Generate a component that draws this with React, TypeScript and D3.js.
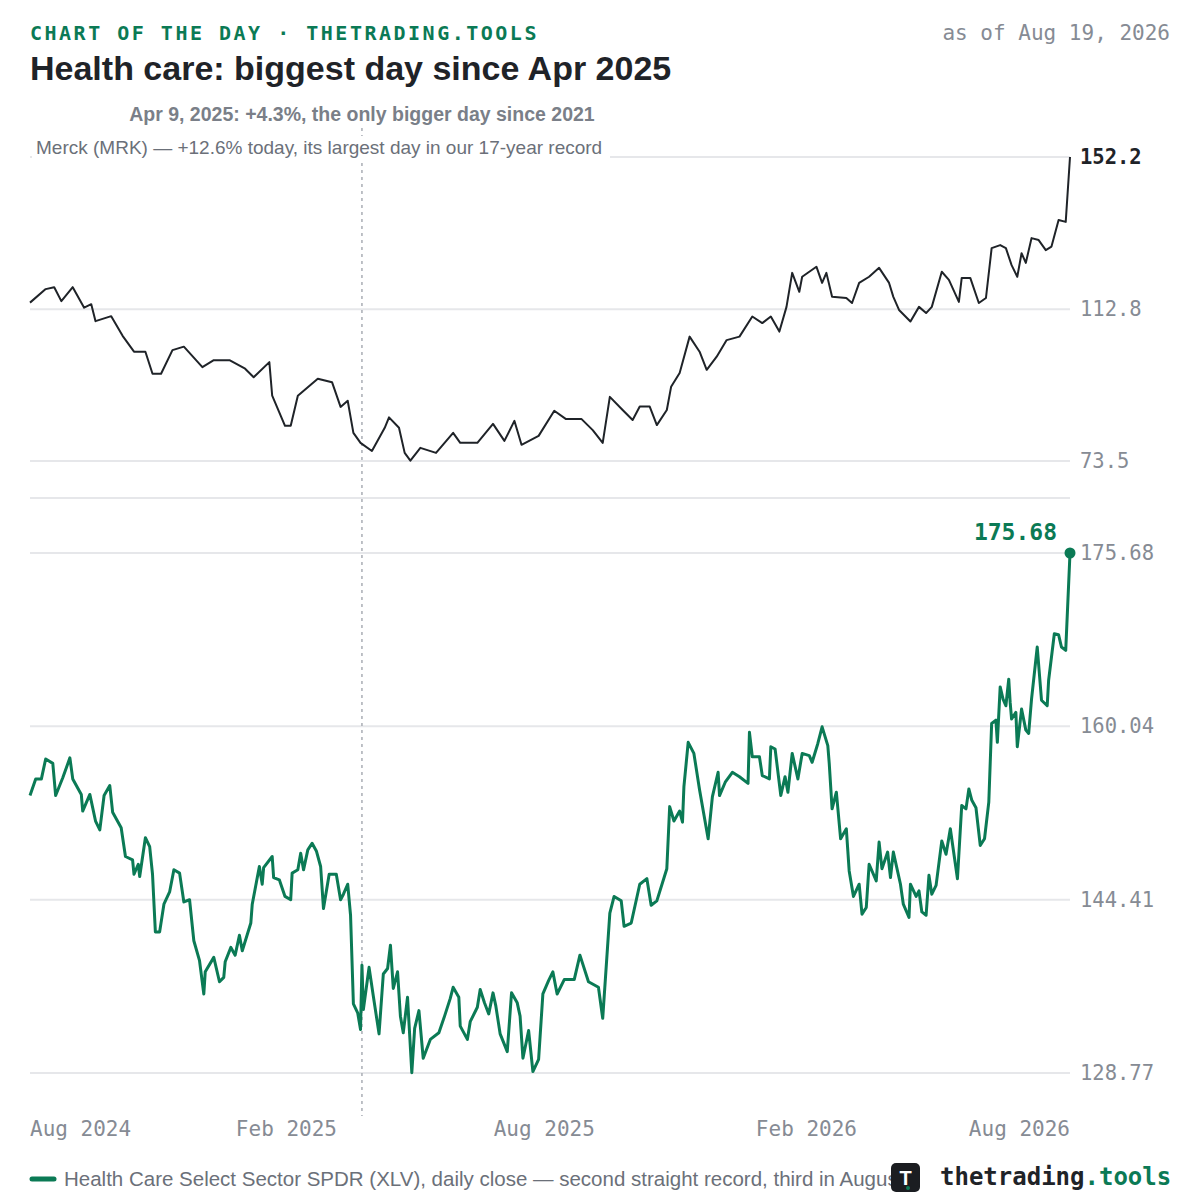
import React, { useRef, useEffect } from 'react';
import * as d3 from 'd3';

// days since Aug 19, 2024 and closing values
const mrkDays = [0, 11, 17, 22, 30, 38, 43, 46, 57, 65, 73, 81, 86, 92, 100, 108, 121, 129, 140, 151, 157, 168, 170, 179, 183, 188, 202, 212, 218, 223, 227, 232, 240, 249, 252, 259, 263, 267, 274, 285, 297, 302, 314, 325, 333, 340, 345, 357, 368, 376, 387, 395, 402, 407, 416, 423, 428, 435, 440, 447, 450, 456, 463, 470, 475, 482, 489, 498, 507, 514, 520, 526, 531, 535, 540, 542, 552, 556, 559, 563, 573, 577, 582, 589, 596, 603, 606, 610, 618, 624, 629, 633, 640, 645, 652, 654, 660, 666, 671, 675, 681, 685, 689, 693, 696, 699, 703, 708, 713, 717, 722, 727, 730];
const mrkClose = [114.5, 118.0, 118.5, 114.9, 118.5, 113.2, 114.1, 109.7, 111.0, 105.9, 101.8, 101.8, 96.1, 96.1, 102.2, 103.1, 97.8, 99.6, 99.6, 97.4, 95.2, 99.1, 90.4, 82.6, 82.6, 90.4, 94.8, 93.9, 87.5, 89.1, 80.8, 78.2, 76.1, 82.1, 84.8, 82.1, 75.6, 73.6, 76.9, 75.6, 80.8, 78.2, 78.2, 83.1, 78.7, 83.9, 77.7, 80.0, 86.5, 84.4, 84.4, 81.5, 78.2, 90.1, 86.7, 84.1, 87.6, 87.6, 82.8, 86.7, 92.7, 96.3, 105.7, 101.8, 97.1, 100.5, 104.8, 105.7, 110.9, 109.2, 110.9, 107.0, 113.4, 122.2, 117.3, 121.2, 123.8, 119.6, 122.2, 116.0, 115.7, 114.4, 119.6, 121.2, 123.5, 119.6, 116.0, 112.6, 109.6, 113.4, 111.8, 113.4, 122.5, 120.4, 114.7, 120.9, 120.9, 114.4, 115.7, 128.6, 129.4, 128.6, 124.2, 121.2, 127.3, 124.8, 131.2, 130.7, 128.1, 129.0, 135.9, 135.4, 152.2];

const xlvDays = [0, 4, 8, 11, 16, 18, 23, 28, 30, 36, 37, 42, 46, 49, 52, 56, 58, 64, 67, 72, 73, 76, 77, 81, 84, 86, 88, 91, 94, 98, 101, 105, 108, 112, 115, 119, 122, 123, 129, 133, 136, 137, 141, 144, 147, 149, 155, 156, 161, 163, 164, 170, 171, 175, 179, 183, 184, 188, 190, 192, 195, 198, 201, 204, 206, 210, 215, 218, 220, 223, 225, 227, 230, 232, 233, 234, 238, 241, 245, 248, 251, 253, 255, 258, 260, 262, 265, 268, 270, 273, 276, 281, 287, 291, 295, 297, 301, 302, 307, 309, 314, 316, 319, 322, 325, 327, 330, 335, 338, 342, 344, 346, 350, 353, 357, 360, 364, 367, 370, 375, 382, 386, 392, 399, 402, 407, 410, 415, 417, 422, 428, 433, 436, 440, 447, 449, 452, 456, 458, 459, 462, 466, 470, 476, 479, 483, 484, 488, 493, 498, 504, 505, 507, 512, 514, 519, 520, 523, 527, 530, 532, 535, 539, 542, 547, 549, 553, 556, 560, 561, 563, 566, 569, 573, 575, 578, 582, 584, 587, 589, 594, 596, 598, 602, 604, 606, 611, 613, 617, 618, 622, 624, 626, 629, 631, 633, 636, 640, 643, 646, 649, 651, 654, 657, 659, 661, 664, 667, 670, 673, 675, 678, 679, 681, 683, 685, 687, 688, 689, 692, 693, 696, 699, 701, 703, 707, 710, 714, 715, 719, 722, 724, 727, 730];
const xlvClose = [153.8, 155.3, 155.3, 157.1, 156.7, 153.8, 155.4, 157.2, 155.3, 153.9, 152.4, 153.9, 151.5, 150.7, 153.8, 154.7, 152.3, 150.9, 148.3, 148.0, 146.7, 147.6, 146.5, 150.0, 149.2, 146.7, 141.5, 141.5, 144.0, 145.1, 147.1, 146.8, 144.2, 144.4, 140.7, 138.9, 135.9, 137.9, 139.2, 137.0, 137.4, 138.8, 140.1, 139.4, 141.2, 139.8, 142.3, 144.0, 147.4, 145.8, 147.3, 148.3, 146.4, 146.2, 144.7, 144.4, 146.8, 147.1, 148.6, 147.1, 148.9, 149.5, 148.8, 147.4, 143.6, 146.7, 146.7, 144.4, 144.9, 145.8, 143.0, 135.0, 134.2, 132.7, 138.5, 134.5, 138.3, 135.7, 132.3, 137.7, 138.2, 140.3, 136.4, 137.9, 133.9, 132.4, 135.6, 128.8, 132.8, 134.4, 130.1, 131.8, 132.4, 133.9, 135.5, 136.5, 135.6, 133.0, 131.8, 133.4, 134.7, 136.3, 135.1, 134.1, 136.0, 134.8, 132.3, 130.7, 136.0, 135.1, 133.9, 130.1, 132.6, 128.9, 130.0, 135.9, 137.1, 137.9, 135.9, 137.2, 137.2, 139.4, 137.0, 136.5, 133.7, 143.2, 144.7, 144.3, 142.0, 142.3, 145.8, 146.3, 143.9, 144.3, 147.2, 152.8, 151.5, 152.4, 151.4, 154.6, 158.6, 157.6, 154.3, 149.9, 153.7, 155.9, 153.8, 155.0, 155.9, 155.5, 154.9, 159.5, 157.3, 157.3, 155.6, 155.3, 158.2, 158.0, 153.8, 155.5, 154.1, 157.6, 155.3, 157.6, 157.4, 156.8, 158.5, 160.0, 158.3, 156.7, 152.6, 154.1, 149.9, 150.8, 147.0, 144.7, 145.8, 143.1, 143.7, 147.6, 146.1, 149.6, 147.2, 148.7, 146.4, 148.7, 145.8, 144.0, 142.8, 145.8, 144.7, 145.2, 143.3, 143.0, 146.6, 144.9, 145.7, 149.7, 148.5, 150.8, 148.1, 146.3, 152.9, 152.6, 154.4, 153.4, 152.7, 149.3, 149.9, 153.2, 160.3, 160.6, 158.6, 163.6, 162.5, 161.9, 164.3, 162.2, 160.7, 161.3, 158.2, 161.6, 159.7, 159.4, 162.5, 167.2, 162.4, 161.9, 164.2, 168.4, 168.3, 167.2, 166.9, 175.68];

const mrkTicks = [73.5, 112.8, 152.2];
const xlvTicks = [128.77, 144.41, 160.04, 175.68];
const xTickLabels = ['Aug 2024', 'Feb 2025', 'Aug 2025', 'Feb 2026', 'Aug 2026'];
const xTickDates = ['2024-08-19', '2025-02-15', '2025-08-15', '2026-02-15', '2026-08-19'];
const eventDate = '2025-04-09';

const GREEN = '#0b7a55';
const INK = '#1f2328';
const GRAY = '#868b94';
const MONO = '"DejaVu Sans Mono", "Liberation Mono", monospace';
const SANS = '"Helvetica Neue", Arial, "Liberation Sans", sans-serif';

const App: React.FC = () => {
  const ref = useRef<SVGSVGElement>(null);

  useEffect(() => {
    const svg = d3.select(ref.current);
    svg.selectAll('*').remove();

    const start = new Date(2024, 7, 19);
    const parse = d3.timeParse('%Y-%m-%d');
    const x = d3.scaleTime().domain([start, new Date(2026, 7, 19)]).range([30, 1070]);
    const yTop = d3.scaleLinear().domain([73.5, 152.2]).range([461, 157]);
    const yBot = d3.scaleLinear().domain([128.77, 175.68]).range([1073, 553]);

    const mrk = mrkDays.map((d, i) => ({ date: d3.timeDay.offset(start, d), v: mrkClose[i] }));
    const xlv = xlvDays.map((d, i) => ({ date: d3.timeDay.offset(start, d), v: xlvClose[i] }));

    // header
    svg.append('text').attr('x', 30).attr('y', 40).attr('font-family', MONO).attr('font-weight', 700)
      .attr('font-size', 20).attr('letter-spacing', 2.5).attr('fill', GREEN).text('CHART OF THE DAY · THETRADING.TOOLS');
    svg.append('text').attr('x', 1170).attr('y', 40).attr('text-anchor', 'end').attr('font-family', MONO)
      .attr('font-size', 21).attr('fill', GRAY).text('as of Aug 19, 2026');
    svg.append('text').attr('x', 30).attr('y', 80).attr('font-family', SANS).attr('font-weight', 700)
      .attr('font-size', 34).attr('fill', INK).text('Health care: biggest day since Apr 2025');

    // grid
    const grid = svg.append('g').attr('stroke', '#e6e7ea').attr('stroke-width', 2);
    mrkTicks.forEach(t => grid.append('line').attr('x1', 30).attr('x2', 1070).attr('y1', yTop(t)).attr('y2', yTop(t)));
    xlvTicks.forEach(t => grid.append('line').attr('x1', 30).attr('x2', 1070).attr('y1', yBot(t)).attr('y2', yBot(t)));
    grid.append('line').attr('x1', 30).attr('x2', 1070).attr('y1', 498).attr('y2', 498);

    // event marker
    const ex = x(parse(eventDate)!);
    svg.append('line').attr('x1', ex).attr('x2', ex).attr('y1', 128).attr('y2', 1116)
      .attr('stroke', '#a9adb4').attr('stroke-width', 1.5).attr('stroke-dasharray', '3,4');
    svg.append('text').attr('x', ex).attr('y', 121).attr('text-anchor', 'middle').attr('font-family', SANS)
      .attr('font-weight', 700).attr('font-size', 19.5).attr('fill', '#7a7f88')
      .text('Apr 9, 2025: +4.3%, the only bigger day since 2021');

    // annotation with white backdrop
    svg.append('rect').attr('x', 32).attr('y', 136).attr('width', 578).attr('height', 24).attr('fill', '#fff');
    svg.append('text').attr('x', 36).attr('y', 154).attr('font-family', SANS).attr('font-size', 19).attr('fill', '#6b7079')
      .text('Merck (MRK) — +12.6% today, its largest day in our 17-year record');

    // lines
    const lineTop = d3.line<{ date: Date; v: number }>().x(d => x(d.date)).y(d => yTop(d.v));
    const lineBot = d3.line<{ date: Date; v: number }>().x(d => x(d.date)).y(d => yBot(d.v));
    svg.append('path').datum(mrk).attr('d', lineTop).attr('fill', 'none').attr('stroke', INK)
      .attr('stroke-width', 2).attr('stroke-linejoin', 'round');
    svg.append('path').datum(xlv).attr('d', lineBot).attr('fill', 'none').attr('stroke', GREEN)
      .attr('stroke-width', 3).attr('stroke-linejoin', 'round');

    const lastX = xlv[xlv.length - 1];
    svg.append('circle').attr('cx', x(lastX.date)).attr('cy', yBot(lastX.v)).attr('r', 5.5).attr('fill', GREEN);
    svg.append('text').attr('x', 1057).attr('y', 540).attr('text-anchor', 'end').attr('font-family', MONO)
      .attr('font-weight', 700).attr('font-size', 23).attr('fill', GREEN).text('175.68');

    // right axis labels
    mrkTicks.forEach((t, i) => {
      const last = i === mrkTicks.length - 1;
      svg.append('text').attr('x', 1080).attr('y', yTop(t) + 7).attr('font-family', MONO)
        .attr('font-size', 20.5).attr('font-weight', last ? 700 : 400).attr('fill', last ? INK : GRAY)
        .text(t.toString());
    });
    xlvTicks.forEach(t => {
      svg.append('text').attr('x', 1080).attr('y', yBot(t) + 7).attr('font-family', MONO)
        .attr('font-size', 20.5).attr('fill', GRAY).text(t.toFixed(2));
    });

    // x axis labels
    xTickDates.forEach((d, i) => {
      const anchor = i === 0 ? 'start' : i === xTickDates.length - 1 ? 'end' : 'middle';
      svg.append('text').attr('x', x(parse(d)!)).attr('y', 1136).attr('text-anchor', anchor)
        .attr('font-family', MONO).attr('font-size', 21).attr('fill', GRAY).text(xTickLabels[i]);
    });

    // legend
    svg.append('line').attr('x1', 32).attr('x2', 54).attr('y1', 1179).attr('y2', 1179)
      .attr('stroke', GREEN).attr('stroke-width', 5).attr('stroke-linecap', 'round');
    svg.append('text').attr('x', 64).attr('y', 1186).attr('font-family', SANS).attr('font-size', 20.5).attr('fill', '#6b7079')
      .text('Health Care Select Sector SPDR (XLV), daily close — second straight record, third in August');

    // logo
    const logo = svg.append('g');
    logo.append('rect').attr('x', 891).attr('y', 1163).attr('width', 29).attr('height', 29).attr('rx', 5).attr('fill', '#1b1d21');
    logo.append('text').attr('x', 905.5).attr('y', 1185).attr('text-anchor', 'middle').attr('font-family', SANS)
      .attr('font-weight', 700).attr('font-size', 20).attr('fill', '#fff').text('T');
    logo.append('circle').attr('cx', 908).attr('cy', 1188).attr('r', 2).attr('fill', GREEN);
    const lt = logo.append('text').attr('x', 940).attr('y', 1185).attr('font-family', MONO)
      .attr('font-weight', 700).attr('font-size', 24).attr('fill', INK);
    lt.append('tspan').text('thetrading');
    lt.append('tspan').attr('fill', GREEN).text('.tools');
  }, []);

  return <svg ref={ref} width={1200} height={1200} style={{ display: 'block', margin: -8, background: '#fff' }} />;
};

export default App;
